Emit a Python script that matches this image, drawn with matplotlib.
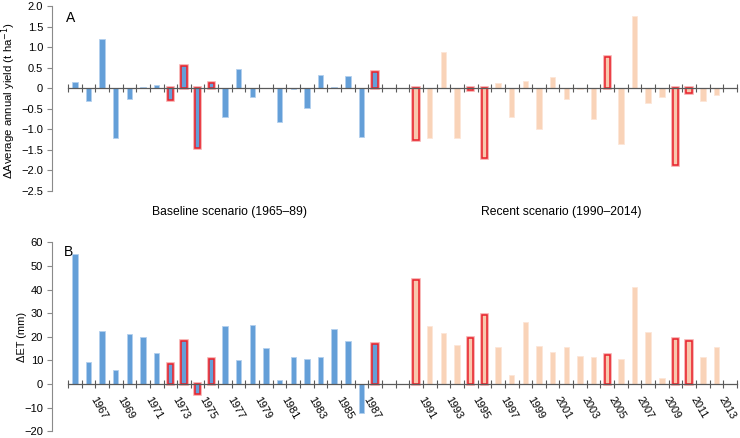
import matplotlib
matplotlib.use("Agg")
import matplotlib.pyplot as plt
import numpy as np

plt.rcParams['font.family'] = ['Liberation Sans', 'DejaVu Sans']

baseline_years = list(range(1966, 1989))
recent_years = list(range(1991, 2014))

yield_baseline = [0.14, -0.30, 1.20, -1.22, -0.27, 0.03, 0.08, -0.28, 0.55, -1.45,
                  0.13, -0.71, 0.46, -0.22, 0.0, -0.81, -0.02, -0.49, 0.32, 0.03,
                  0.30, -1.18, 0.40]
yield_recent = [-1.27, -1.22, 0.88, -1.22, -0.04, -1.70, 0.13, -0.71, 0.17, -1.00,
                0.27, -0.27, -0.03, -0.76, 0.76, -1.35, 1.76, -0.35, -0.22, -1.87,
                -0.11, -0.30, -0.16]

et_baseline = [55.1, 9.3, 22.6, 5.8, 21.2, 20.1, 13.0, 8.6, 18.2, -4.4,
               10.7, 24.6, 10.2, 24.9, 15.1, 1.6, 11.4, 10.7, 11.4, 23.4,
               18.4, -12.1, 17.1]
et_recent = [44.2, 24.6, 21.6, 16.5, 19.6, 29.4, 15.7, 4.0, 26.4, 16.0,
             13.6, 15.7, 12.0, 11.4, 12.4, 10.6, 41.0, 22.2, 2.5, 19.2,
             18.2, 11.3, 15.7]

highlight_years = [1973, 1974, 1975, 1976, 1988, 1991, 1995, 1996, 2005, 2010, 2011]

label_years = list(range(1967, 1988, 2)) + list(range(1991, 2014, 2))

yA_ticks = [2.0, 1.5, 1.0, 0.5, 0, -0.5, -1.0, -1.5, -2.0, -2.5]
yA_labels = ['2.0', '1.5', '1.0', '0.5', '0', '\u22120.5', '\u22121.0', '\u22121.5', '\u22122.0', '\u22122.5']
yB_ticks = [60, 50, 40, 30, 20, 10, 0, -10, -20]
yB_labels = ['60', '50', '40', '30', '20', '10', '0', '\u221210', '\u221220']

BLUE = '#649fd8'
BLUE_EDGE = '#b3d0ee'
PEACH = '#f9d3b8'
PEACH_EDGE = '#fde6d8'
RED = '#e8212b'
GRAY = '#8a8a8a'
DARK = '#5a5a5a'

fig = plt.figure(figsize=(7.4, 4.38), dpi=100)
axA = fig.add_axes([52 / 740, 1 - 191 / 438, 687 / 740, 185 / 438])
axB = fig.add_axes([52 / 740, 1 - 431.3 / 438, 687 / 740, 189 / 438])

W = 0.4


def draw(ax, years, vals, color, edge, red_fill):
    for yr, v in zip(years, vals):
        if yr in highlight_years:
            ax.bar(yr, v, width=W, color=red_fill, edgecolor='#f6a9a9', linewidth=2.6, zorder=2)
            ax.bar(yr, v, width=W, color=red_fill, edgecolor=RED, linewidth=1.1, zorder=3)
        else:
            ax.bar(yr, v, width=W, color=color, edgecolor=edge, linewidth=0.6, zorder=2)


for ax, bvals, rvals in [(axA, yield_baseline, yield_recent), (axB, et_baseline, et_recent)]:
    draw(ax, baseline_years, bvals, BLUE, BLUE_EDGE, BLUE)
    draw(ax, recent_years, rvals, PEACH, PEACH_EDGE, '#f8c8ae')
    ax.set_xlim(1964.33, 2014.65)
    for s in ['top', 'right']:
        ax.spines[s].set_visible(False)
    ax.spines['bottom'].set_position(('data', 0))
    ax.spines['bottom'].set_bounds(1965.5, 2014.5)
    ax.spines['bottom'].set_color(DARK)
    ax.spines['bottom'].set_linewidth(0.9)
    ax.spines['bottom'].set_zorder(4)
    ax.spines['left'].set_color(GRAY)
    ax.spines['left'].set_linewidth(0.8)
    ax.set_xticks(np.arange(1965.5, 2015, 1.0), minor=True)
    ax.tick_params(axis='x', which='minor', direction='inout', length=6, width=0.8, color=DARK)
    ax.tick_params(axis='y', direction='out', length=3.5, width=0.8, color=GRAY,
                   labelsize=8, pad=3)
    ax.patch.set_alpha(0)

axA.set_ylim(-2.5, 2.0)
axA.spines['left'].set_bounds(-2.5, 2.0)
axA.set_yticks(yA_ticks)
axA.set_yticklabels(yA_labels)
axA.set_xticks([])
axA.set_ylabel('\u0394Average annual yield (t ha$^{\u22121}$)', fontsize=8.2)
axA.yaxis.set_label_coords(-0.050, 0.49)

axB.set_ylim(-20, 60)
axB.spines['left'].set_bounds(-20, 60)
axB.set_yticks(yB_ticks)
axB.set_yticklabels(yB_labels)
axB.set_xticks(label_years)
axB.set_xticklabels([str(y) for y in label_years], rotation=-60, ha='left', va='top',
                    rotation_mode='default', fontsize=7.8)
axB.tick_params(axis='x', which='major', length=0, pad=8)
axB.set_ylabel('\u0394ET (mm)', fontsize=7.9)
axB.yaxis.set_label_coords(-0.037, 0.5)

axA.text(0.02, 0.975, 'A', transform=axA.transAxes, fontsize=10, ha='left', va='top')
axB.text(0.017, 0.985, 'B', transform=axB.transAxes, fontsize=10, ha='left', va='top')

fig.text(230 / 740, 1 - 212 / 438, 'Baseline scenario (1965\u201389)', ha='center', va='center', fontsize=8.7)
fig.text(561 / 740, 1 - 212 / 438, 'Recent scenario (1990\u20132014)', ha='center', va='center', fontsize=8.7)

fig.savefig('out.png', dpi=100)
